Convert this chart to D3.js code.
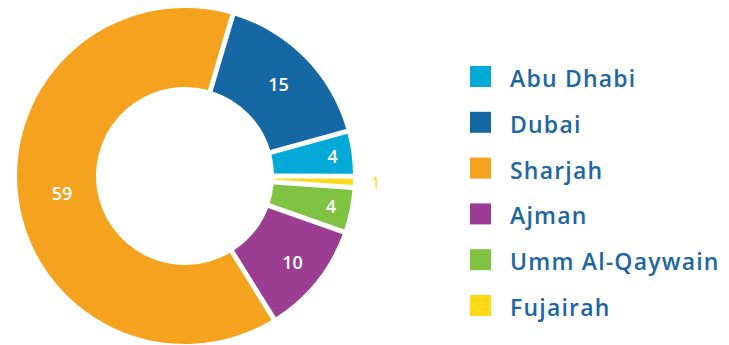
<!DOCTYPE html>
<html>
<head>
<meta charset="utf-8">
<script src="https://cdn.jsdelivr.net/npm/d3@7"></script>
<style>
  html, body { margin: 0; padding: 0; background: #fff; }
  svg { display: block; font-family: "Open Sans", "Lato", sans-serif; }
</style>
</head>
<body>
<svg id="chart" width="729" height="345"></svg>
<script>
// Emirates and their counts, listed in legend order
const emirates = ["Abu Dhabi", "Dubai", "Sharjah", "Ajman", "Umm Al-Qaywain", "Fujairah"];
const counts   = [4, 15, 59, 10, 4, 1];
const colours  = ["#03aad7", "#1568a4", "#f5a31f", "#9a3d93", "#80c242", "#fdd917"];
// Clockwise drawing order of the ring, starting just right of twelve o'clock
const ringOrder = ["Dubai", "Abu Dhabi", "Fujairah", "Umm Al-Qaywain", "Ajman", "Sharjah"];

const svg = d3.select("#chart");
const cx = 185, cy = 176;
const outerR = 168, innerR = 89;
const gap = 5; // white gap between slices, in px

const data = emirates.map((name, i) => ({ name, value: counts[i] }));
const color = d3.scaleOrdinal().domain(emirates).range(colours);

const startAngle = 16.5 * Math.PI / 180;

const pie = d3.pie()
  .sort((a, b) => ringOrder.indexOf(a.name) - ringOrder.indexOf(b.name))
  .value(d => d.value)
  .startAngle(startAngle)
  .endAngle(startAngle + 2 * Math.PI);

const padRadius = Math.sqrt(innerR * innerR + outerR * outerR);
const arc = d3.arc()
  .innerRadius(innerR)
  .outerRadius(outerR)
  .padRadius(padRadius)
  .padAngle(gap / padRadius);

const arcs = pie(data);

const g = svg.append("g").attr("transform", `translate(${cx},${cy})`);

g.selectAll("path.slice")
  .data(arcs)
  .join("path")
  .attr("class", "slice")
  .attr("d", arc)
  .attr("fill", d => color(d.data.name));

// Narrow slices get their label pushed toward the rim
const labelRadius = d3.scaleLinear().domain([4, 10, 15, 59]).range([149, 138, 131, 124]).clamp(true);

g.selectAll("text.val")
  .data(arcs)
  .join("text")
  .attr("class", "val")
  .each(function (d) {
    const mid = (d.startAngle + d.endAngle) / 2;
    const outside = d.value < 2;
    const r = outside ? outerR + 23 : labelRadius(d.value);
    d3.select(this)
      .attr("x", Math.sin(mid) * r)
      .attr("y", -Math.cos(mid) * r)
      .attr("fill", outside ? color(d.data.name) : "#ffffff")
      .attr("font-size", outside ? 16 : 18)
      .attr("font-weight", outside ? 400 : 600);
  })
  .attr("text-anchor", "middle")
  .attr("dominant-baseline", "central")
  .text(d => d.value);

// Legend
const legendY = d3.scalePoint().domain(emirates).range([76.5, 305.5]);
const item = svg.append("g")
  .selectAll("g.item")
  .data(emirates)
  .join("g")
  .attr("class", "item")
  .attr("transform", d => `translate(470,${legendY(d)})`);

item.append("rect")
  .attr("x", 0)
  .attr("y", -10.5)
  .attr("width", 21)
  .attr("height", 21)
  .attr("fill", d => color(d));

item.append("text")
  .attr("x", 40)
  .attr("y", 10.5)
  .attr("font-size", 23)
  .attr("font-weight", 600)
  .attr("letter-spacing", 1.2)
  .attr("fill", "#1c66a2")
  .text(d => d);
</script>
</body>
</html>
